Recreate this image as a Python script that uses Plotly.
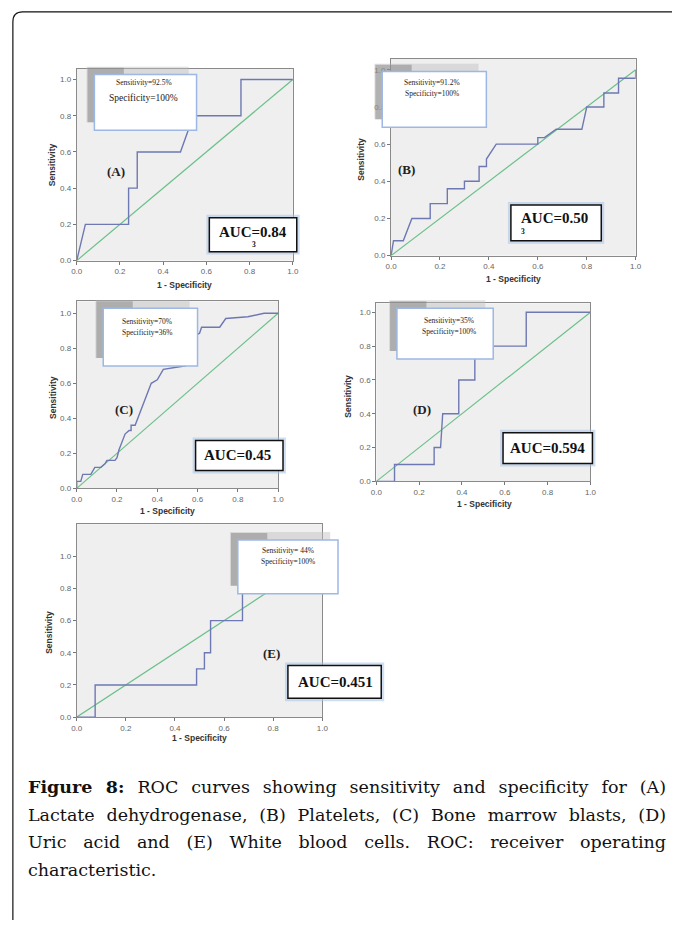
import json
import plotly.graph_objects as go

# ---------------- data ----------------
tick_vals = [0.0, 0.2, 0.4, 0.6, 0.8, 1.0]
tick_text = ["0.0", "0.2", "0.4", "0.6", "0.8", "1.0"]

diag_x = [0.0, 1.0]
diag_y = [0.0, 1.0]

a_fpr = [0, 0.04, 0.24, 0.24, 0.28, 0.28, 0.48, 0.54, 0.76, 0.76, 1.0]
a_tpr = [0, 0.20, 0.20, 0.40, 0.40, 0.60, 0.60, 0.80, 0.80, 1.00, 1.0]

b_fpr = [0, 0.01, 0.05, 0.085, 0.16, 0.16, 0.23, 0.23, 0.30, 0.30, 0.36, 0.36, 0.39, 0.39,
         0.43, 0.60, 0.60, 0.627, 0.675, 0.78, 0.80, 0.87, 0.87, 0.93, 0.93, 1.0, 1.0]
b_tpr = [0, 0.08, 0.08, 0.20, 0.20, 0.28, 0.28, 0.36, 0.36, 0.40, 0.40, 0.48, 0.48, 0.52,
         0.60, 0.60, 0.635, 0.635, 0.68, 0.68, 0.80, 0.80, 0.875, 0.875, 0.955, 0.955, 1.0]

c_fpr = [0, 0, 0.02, 0.03, 0.07, 0.09, 0.12, 0.14, 0.15, 0.19, 0.20, 0.21, 0.24, 0.26,
         0.27, 0.27, 0.29, 0.33, 0.37, 0.40, 0.43, 0.54, 0.60, 0.61, 0.62, 0.71, 0.74,
         0.85, 0.93, 1.0]
c_tpr = [0, 0.04, 0.04, 0.08, 0.08, 0.12, 0.12, 0.14, 0.16, 0.16, 0.175, 0.22, 0.31, 0.33,
         0.33, 0.36, 0.36, 0.48, 0.60, 0.62, 0.68, 0.70, 0.88, 0.886, 0.92, 0.92, 0.97,
         0.98, 1.0, 1.0]

d_fpr = [0, 0.085, 0.085, 0.27, 0.27, 0.30, 0.31, 0.385, 0.385, 0.46, 0.46, 0.70, 0.70, 1.0]
d_tpr = [0, 0.0, 0.10, 0.10, 0.20, 0.20, 0.40, 0.40, 0.60, 0.60, 0.80, 0.80, 1.00, 1.0]

e_fpr = [0, 0.075, 0.075, 0.488, 0.488, 0.52, 0.52, 0.545, 0.545, 0.675, 0.675, 1.0]
e_tpr = [0, 0.0, 0.20, 0.20, 0.30, 0.30, 0.40, 0.40, 0.60, 0.60, 1.00, 1.0]

panel_labels = ["(A)", "(B)", "(C)", "(D)", "(E)"]
sens_text = ["Sensitivity=92.5%", "Sensitivity=91.2%", "Sensitivity=70%",
             "Sensitivity=35%", "Sensitivity= 44%"]
spec_text = ["Specificity=100%", "Specificity=100%", "Specificity=36%",
             "Specificity=100%", "Specificity=100%"]
auc_text = ["AUC=0.84", "AUC=0.50", "AUC=0.45", "AUC=0.594", "AUC=0.451"]
auc_sub = ["3", "3", "", "", ""]
x_title = "1 - Specificity"
y_title = "Sensitivity"

caption_bold = "Figure 8:"
caption_lines = [
    "ROC curves showing sensitivity and specificity for (A)",
    "Lactate dehydrogenase, (B) Platelets, (C) Bone marrow blasts, (D)",
    "Uric acid and (E) White blood cells. ROC: receiver operating",
    "characteristic.",
]

series = [(a_fpr, a_tpr), (b_fpr, b_tpr), (c_fpr, c_tpr), (d_fpr, d_tpr), (e_fpr, e_tpr)]

# ---------------- geometry (pixels) ----------------
W, H = 678, 925


def PX(x):
    return x / W


def PY(y):
    return 1 - y / H


geo = [
    dict(x0=72, x1=292, top=69, bot=262, ymax=1.06,
         sens=(90, 75, 194, 131), s1=83, s2=99, scx=140, s2size=9.5,
         auc=(207, 219, 296, 253), auct=(251, 233), subt=(252, 246),
         lab=(112, 172), yt=(47, 166), xt=(182, 287)),
    dict(x0=392, x1=641, top=59, bot=257, ymax=1.06,
         sens=(383, 72, 489, 128), s1=83, s2=94, scx=434, s2size=7.5,
         auc=(514, 206, 606, 242), auct=(558, 219), subt=(526, 233),
         lab=(408, 170), yt=(362, 160), xt=(517, 281)),
    dict(x0=72, x1=277, top=303, bot=491, ymax=1.068,
         sens=(99, 310, 195, 368), s1=323, s2=334, scx=144, s2size=7.5,
         auc=(193, 443, 282, 473), auct=(236, 457), subt=(236, 470),
         lab=(120, 412), yt=(48, 400), xt=(164, 514)),
    dict(x0=377, x1=595, top=305, bot=484, ymax=1.053,
         sens=(398, 310, 496, 361), s1=322, s2=333, scx=451, s2size=7.5,
         auc=(506, 435, 597, 466), auct=(551, 450), subt=(551, 462),
         lab=(423, 412), yt=(348, 398), xt=(487, 507)),
    dict(x0=72, x1=322, top=527, bot=721, ymax=1.2,
         sens=(236, 543, 338, 597), s1=553, s2=565, scx=287, s2size=7.5,
         auc=(287, 669, 382, 702), auct=(335, 686), subt=(335, 698),
         lab=(270, 657), yt=(43, 636), xt=(197, 742)),
]

CAP_X0, CAP_X1 = 20, 661
cap_y = [791, 819, 847, 875]

CURVE = "#6e78b2"
DIAG = "#6cc08a"
AXC = "#8a8a8a"
SANS = "Liberation Sans, Arial, sans-serif"
SERIF = "Liberation Serif, Times New Roman, serif"

fig = go.Figure()
layout = dict(
    width=W, height=H,
    margin=dict(l=0, r=0, t=0, b=0),
    paper_bgcolor="white",
    plot_bgcolor="#efefef",
    showlegend=False,
)
shapes = []
annotations = []

for i, ((fx, ty), g) in enumerate(zip(series, geo)):
    n = "" if i == 0 else str(i + 1)
    xa, ya = "x" + n, "y" + n
    fig.add_trace(go.Scatter(x=diag_x, y=diag_y, mode="lines", xaxis=xa, yaxis=ya,
                             line=dict(color=DIAG, width=1.2), hoverinfo="skip"))
    fig.add_trace(go.Scatter(x=fx, y=ty, mode="lines", xaxis=xa, yaxis=ya,
                             line=dict(color=CURVE, width=1.4), hoverinfo="skip"))
    ax_common = dict(showgrid=False, zeroline=False, showline=True, mirror=True,
                     linecolor=AXC, linewidth=1, ticks="outside", ticklen=3,
                     tickcolor="#777", tickvals=tick_vals, ticktext=tick_text,
                     tickfont=dict(family=SANS, size=8, color="#666"), fixedrange=True)
    layout["xaxis" + n] = dict(ax_common, domain=[PX(g["x0"]), PX(g["x1"])],
                               range=[0, 1.0], anchor=ya)
    layout["yaxis" + n] = dict(ax_common, domain=[PY(g["bot"]), PY(g["top"])],
                               range=[0, g["ymax"]], anchor=xa)

    # sensitivity box with shadow
    sx0, sy0, sx1, sy1 = g["sens"]
    shapes.append(dict(type="rect", xref="paper", yref="paper",
                       x0=PX(sx0 - 8), x1=PX(sx1 - 8), y0=PY(sy1 - 8), y1=PY(sy0 - 8),
                       fillcolor="rgba(190,190,190,0.45)", line=dict(width=0)))
    shapes.append(dict(type="rect", xref="paper", yref="paper",
                       x0=PX(sx0 - 7), x1=PX(sx0 + 30), y0=PY(sy1 - 8), y1=PY(sy0 - 7),
                       fillcolor="rgba(120,120,120,0.45)", line=dict(width=0)))
    shapes.append(dict(type="rect", xref="paper", yref="paper",
                       x0=PX(sx0), x1=PX(sx1), y0=PY(sy1), y1=PY(sy0),
                       fillcolor="white", line=dict(color="#9db8e4", width=1.5)))
    annotations.append(dict(xref="paper", yref="paper", x=PX(g["scx"]), y=PY(g["s1"]),
                            text=sens_text[i], showarrow=False, xanchor="center",
                            yanchor="middle",
                            font=dict(family=SERIF, size=7.5, color="#222")))
    annotations.append(dict(xref="paper", yref="paper", x=PX(g["scx"]), y=PY(g["s2"]),
                            text=spec_text[i], showarrow=False, xanchor="center",
                            yanchor="middle",
                            font=dict(family=SERIF, size=g["s2size"], color="#222")))

    # AUC box with glow
    ax0, ay0, ax1, ay1 = g["auc"]
    shapes.append(dict(type="rect", xref="paper", yref="paper",
                       x0=PX(ax0 - 3), x1=PX(ax1 + 3), y0=PY(ay1 + 3), y1=PY(ay0 - 3),
                       fillcolor="rgba(170,195,230,0.55)", line=dict(width=0)))
    shapes.append(dict(type="rect", xref="paper", yref="paper",
                       x0=PX(ax0), x1=PX(ax1), y0=PY(ay1), y1=PY(ay0),
                       fillcolor="white", line=dict(color="#111", width=1.5)))
    annotations.append(dict(xref="paper", yref="paper", x=PX(g["auct"][0]),
                            y=PY(g["auct"][1]), text="<b>" + auc_text[i] + "</b>",
                            showarrow=False, xanchor="center", yanchor="middle",
                            font=dict(family=SERIF, size=15, color="#111")))
    if auc_sub[i]:
        annotations.append(dict(xref="paper", yref="paper", x=PX(g["subt"][0]),
                                y=PY(g["subt"][1]), text="<b>" + auc_sub[i] + "</b>",
                                showarrow=False, xanchor="center", yanchor="middle",
                                font=dict(family=SERIF, size=7.5, color="#111")))

    # panel label
    annotations.append(dict(xref="paper", yref="paper", x=PX(g["lab"][0]),
                            y=PY(g["lab"][1]), text="<b>" + panel_labels[i] + "</b>",
                            showarrow=False, xanchor="center", yanchor="middle",
                            font=dict(family=SERIF, size=13, color="#222")))
    # axis titles
    annotations.append(dict(xref="paper", yref="paper", x=PX(g["yt"][0]),
                            y=PY(g["yt"][1]), text="<b>" + y_title + "</b>",
                            showarrow=False, xanchor="center", yanchor="middle",
                            textangle=-90,
                            font=dict(family=SANS, size=8.5, color="#333")))
    annotations.append(dict(xref="paper", yref="paper", x=PX(g["xt"][0]),
                            y=PY(g["xt"][1]), text="<b>" + x_title + "</b>",
                            showarrow=False, xanchor="center", yanchor="middle",
                            font=dict(family=SANS, size=8.5, color="#333")))

# caption (justified in the browser via word spacing)
cap_texts = []
for k, (line, yy) in enumerate(zip(caption_lines, cap_y)):
    txt = ("<b>" + caption_bold + "</b> " + line) if k == 0 else line
    plain = (caption_bold + " " + line) if k == 0 else line
    if k < len(caption_lines) - 1:
        cap_texts.append(plain)
    annotations.append(dict(xref="paper", yref="paper", x=PX(CAP_X0), y=PY(yy),
                            text=txt, showarrow=False, xanchor="left", align="left",
                            yanchor="middle",
                            font=dict(family="DejaVu Serif, serif", size=17.5,
                                      color="#111")))

# outer frame (rounded top-left corner)
frame = "M %f,%f L %f,%f Q %f,%f %f,%f L %f,%f" % (
    PX(7), PY(925), PX(7), PY(22), PX(7), PY(12), PX(17), PY(12), PX(678), PY(12))
shapes.append(dict(type="path", xref="paper", yref="paper", path=frame,
                   line=dict(color="#111", width=1.2)))

layout["shapes"] = shapes
layout["annotations"] = annotations
fig.update_layout(**layout)

target_w = CAP_X1 - CAP_X0 - 3
post = """
document.body.style.margin='0px';
document.body.style.overflow='hidden';
var gd = document.getElementById('{plot_id}');
var targets = TARGETS;
var els = gd.querySelectorAll('text.annotation-text');
els.forEach(function(el){
  var t = el.textContent.replace(/\\u00a0/g, ' ');
  if (targets.indexOf(t) < 0) return;
  el.style.wordSpacing = '0px';
  var w = el.getBBox().width;
  var n = (t.match(/ /g) || []).length;
  if (n > 0 && w < TW) { el.style.wordSpacing = ((TW - w) / n) + 'px'; }
});
""".replace("TARGETS", json.dumps(cap_texts)).replace("TW", str(target_w))

fig.write_html("out.html", config={"displayModeBar": False, "staticPlot": True},
               post_script=post)
